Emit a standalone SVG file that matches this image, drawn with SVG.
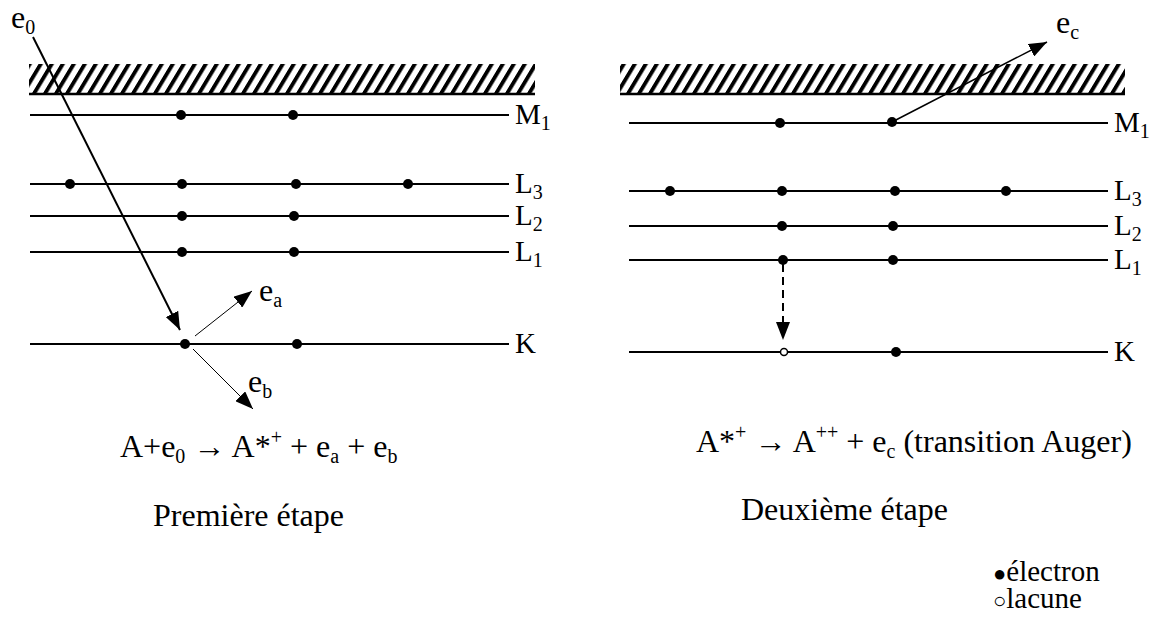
<svg xmlns="http://www.w3.org/2000/svg" width="1155" height="621" viewBox="0 0 1155 621">
<style>
.lvl{stroke:#000;stroke-width:2;fill:none}
.dot{fill:#000}
.hole{fill:#fff;stroke:#000;stroke-width:1.5}
text{font-family:"Liberation Serif","Times New Roman",serif;fill:#000}
.lab{font-size:29px}
.el{font-size:32px}
.eq{font-size:32px}
.leg{font-size:29px}
.sub{font-size:20px}
.sup{font-size:20px}
.base{stroke:#000;stroke-width:2.5}
</style>
<defs>
<pattern id="hatch" patternUnits="userSpaceOnUse" width="11" height="30" patternTransform="skewX(-31)">
<rect x="0" y="0" width="4.5" height="30" fill="#000"/>
</pattern>
<marker id="ah" viewBox="0 0 18 14" refX="18" refY="7" markerWidth="18" markerHeight="14" orient="auto" markerUnits="userSpaceOnUse">
<path d="M0,0 L18,7 L0,14 z" fill="#000"/>
</marker>
</defs>

<g id="left-panel">
<g id="left-continuum">
<rect x="29" y="64" width="506" height="30" fill="url(#hatch)"/>
<line class="base" x1="29" y1="94" x2="535" y2="94"/>
</g>
<g id="left-M1">
<line class="lvl" x1="30" y1="115" x2="509" y2="115"/>
<circle class="dot" cx="181" cy="115" r="5"/><circle class="dot" cx="293" cy="115" r="5"/>
<text class="lab" x="515" y="124">M<tspan class="sub" dy="6">1</tspan></text>
</g>
<g id="left-L3">
<line class="lvl" x1="30" y1="184" x2="509" y2="184"/>
<circle class="dot" cx="70" cy="184" r="5"/><circle class="dot" cx="182" cy="184" r="5"/><circle class="dot" cx="296" cy="184" r="5"/><circle class="dot" cx="408" cy="184" r="5"/>
<text class="lab" x="515" y="193">L<tspan class="sub" dy="6">3</tspan></text>
</g>
<g id="left-L2">
<line class="lvl" x1="30" y1="216" x2="509" y2="216"/>
<circle class="dot" cx="182" cy="216" r="5"/><circle class="dot" cx="294" cy="216" r="5"/>
<text class="lab" x="515" y="225">L<tspan class="sub" dy="6">2</tspan></text>
</g>
<g id="left-L1">
<line class="lvl" x1="30" y1="252" x2="509" y2="252"/>
<circle class="dot" cx="182" cy="252" r="5"/><circle class="dot" cx="294" cy="252" r="5"/>
<text class="lab" x="515" y="261">L<tspan class="sub" dy="6">1</tspan></text>
</g>
<g id="left-K">
<line class="lvl" x1="30" y1="344" x2="509" y2="344"/>
<circle class="dot" cx="185" cy="344" r="5"/><circle class="dot" cx="297" cy="344" r="5"/>
<text class="lab" x="515" y="353">K</text>
</g>
<g id="label-e0"><text class="el" x="11" y="28">e<tspan class="sub" dy="6">0</tspan></text></g>
<g id="label-ea"><text class="el" x="259" y="301">e<tspan class="sub" dy="6">a</tspan></text></g>
<g id="label-eb"><text class="el" x="248" y="392">e<tspan class="sub" dy="6">b</tspan></text></g>
<g id="eq1"><text class="eq" x="120" y="457">A+e<tspan class="sub" dy="6">0</tspan><tspan dy="-6"> → A*</tspan><tspan class="sup" dy="-13">+</tspan><tspan dy="13"> + e</tspan><tspan class="sub" dy="6">a</tspan><tspan dy="-6"> + e</tspan><tspan class="sub" dy="6">b</tspan></text></g>
<g id="title1"><text class="eq" x="153" y="526">Première étape</text></g>
</g>

<g id="right-panel">
<g id="right-continuum">
<rect x="620" y="64" width="505" height="30" fill="url(#hatch)"/>
<line class="base" x1="620" y1="94" x2="1125" y2="94"/>
</g>
<g id="right-M1">
<line class="lvl" x1="629" y1="123" x2="1108" y2="123"/>
<circle class="dot" cx="780" cy="123" r="5"/><circle class="dot" cx="892" cy="122" r="5"/>
<text class="lab" x="1114" y="132">M<tspan class="sub" dy="6">1</tspan></text>
</g>
<g id="right-L3">
<line class="lvl" x1="629" y1="191" x2="1108" y2="191"/>
<circle class="dot" cx="670" cy="191" r="5"/><circle class="dot" cx="782" cy="191" r="5"/><circle class="dot" cx="895" cy="191" r="5"/><circle class="dot" cx="1006" cy="191" r="5"/>
<text class="lab" x="1114" y="200">L<tspan class="sub" dy="6">3</tspan></text>
</g>
<g id="right-L2">
<line class="lvl" x1="629" y1="226" x2="1108" y2="226"/>
<circle class="dot" cx="782" cy="226" r="5"/><circle class="dot" cx="893" cy="226" r="5"/>
<text class="lab" x="1114" y="235">L<tspan class="sub" dy="6">2</tspan></text>
</g>
<g id="right-L1">
<line class="lvl" x1="629" y1="260" x2="1108" y2="260"/>
<circle class="dot" cx="783" cy="260" r="5"/><circle class="dot" cx="893" cy="260" r="5"/>
<text class="lab" x="1114" y="269">L<tspan class="sub" dy="6">1</tspan></text>
</g>
<g id="right-K">
<line class="lvl" x1="629" y1="352" x2="1108" y2="352"/>
<circle class="hole" cx="784" cy="352" r="3.5"/><circle class="dot" cx="896" cy="352" r="5"/>
<text class="lab" x="1114" y="361">K</text>
</g>
<g id="label-ec"><text class="el" x="1056" y="33">e<tspan class="sub" dy="6">c</tspan></text></g>
<g id="eq2"><text class="eq" x="696" y="452">A*<tspan class="sup" dy="-13">+</tspan><tspan dy="13"> → A</tspan><tspan class="sup" dy="-13">++</tspan><tspan dy="13"> + e</tspan><tspan class="sub" dy="6">c</tspan><tspan dy="-6"> (transition Auger)</tspan></text></g>
<g id="title2"><text class="eq" x="741" y="520">Deuxième étape</text></g>
<g id="legend">
<text class="leg" x="993" y="581"><tspan font-size="22">●</tspan>électron</text>
<text class="leg" x="993" y="608"><tspan font-size="22">○</tspan>lacune</text>
</g>
</g>

<g id="connectors">
<line x1="33" y1="37" x2="180" y2="330" stroke="#000" stroke-width="2" marker-end="url(#ah)"/>
<line x1="195" y1="336" x2="252" y2="291" stroke="#000" stroke-width="1" marker-end="url(#ah)"/>
<line x1="193" y1="349" x2="253" y2="409" stroke="#000" stroke-width="1" marker-end="url(#ah)"/>
<line x1="892" y1="122" x2="1047" y2="42" stroke="#000" stroke-width="1.5" marker-end="url(#ah)"/>
<line x1="783" y1="264" x2="783" y2="340" stroke="#000" stroke-width="2" stroke-dasharray="8,5" marker-end="url(#ah)"/>
</g>
</svg>
